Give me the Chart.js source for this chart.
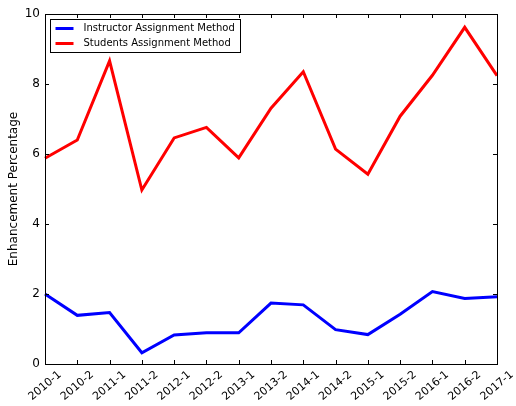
<!DOCTYPE html>
<html>
<head>
<meta charset="utf-8">
<script src="https://cdn.jsdelivr.net/npm/chart.js@4"></script>
<style>
  html, body { margin: 0; padding: 0; background: #fff; }
  #wrap { width: 516px; height: 406px; }
</style>
</head>
<body>
<div id="wrap"><canvas id="myChart" width="516" height="406"></canvas></div>
<script>
var labels = ["2010-1", "2010-2", "2011-1", "2011-2", "2012-1", "2012-2", "2013-1", "2013-2",
  "2014-1", "2014-2", "2015-1", "2015-2", "2016-1", "2016-2", "2017-1"];
var instructorValues = [2.0, 1.39, 1.47, 0.32, 0.83, 0.89, 0.89, 1.74, 1.69, 0.98, 0.84, 1.42, 2.07, 1.87, 1.92];
var studentValues = [5.88, 6.4, 8.66, 4.97, 6.46, 6.76, 5.89, 7.31, 8.35, 6.14, 5.42, 7.08, 8.25, 9.62, 8.24];
var yTicks = [0, 2, 4, 6, 8, 10];

var font = "DejaVu Sans";

// matplotlib-like frame, inward ticks on all sides, centred rotated x labels, legend inside
var framePlugin = {
  id: "frame",
  afterDraw: function(chart) {
    var ctx = chart.ctx, a = chart.chartArea;
    var x = chart.scales.x, y = chart.scales.y;
    ctx.save();
    ctx.strokeStyle = "#000";
    ctx.lineWidth = 1;
    ctx.strokeRect(a.left + 0.5, a.top + 0.5, a.right - a.left, a.bottom - a.top);
    ctx.beginPath();
    for (var i = 0; i < labels.length; i++) {
      var px = Math.round(x.getPixelForValue(i)) + 0.5;
      ctx.moveTo(px, a.bottom); ctx.lineTo(px, a.bottom - 4);
      ctx.moveTo(px, a.top); ctx.lineTo(px, a.top + 4);
    }
    yTicks.forEach(function(v) {
      var py = Math.round(y.getPixelForValue(v)) + 0.5;
      ctx.moveTo(a.left, py); ctx.lineTo(a.left + 4, py);
      ctx.moveTo(a.right, py); ctx.lineTo(a.right - 4, py);
    });
    ctx.stroke();

    // x tick labels, rotated 40 deg, centred on the tick
    var ang = 40 * Math.PI / 180;
    ctx.font = "11px '" + font + "'";
    ctx.fillStyle = "#000";
    ctx.textAlign = "center";
    ctx.textBaseline = "middle";
    labels.forEach(function(lab, i) {
      var w = ctx.measureText(lab).width, h = 11;
      var bh = w * Math.sin(ang) + h * Math.cos(ang);
      ctx.save();
      ctx.translate(x.getPixelForValue(i), a.bottom + 5 + bh / 2);
      ctx.rotate(-ang);
      ctx.fillText(lab, 0, 0);
      ctx.restore();
    });

    // legend
    var lx = a.left + 5.5, ly = a.top + 5.5;
    ctx.textAlign = "left";
    ctx.fillStyle = "#fff";
    ctx.fillRect(lx, ly, 190, 33);
    ctx.strokeRect(lx, ly, 190, 33);
    ctx.font = "10px '" + font + "'";
    chart.data.datasets.forEach(function(ds, k) {
      var cy = ly + 9 + k * 15;
      ctx.strokeStyle = ds.borderColor;
      ctx.lineWidth = 3;
      ctx.beginPath();
      ctx.moveTo(lx + 5, cy); ctx.lineTo(lx + 23, cy);
      ctx.stroke();
      ctx.fillStyle = "#000";
      ctx.fillText(ds.label, lx + 33, cy);
    });
    ctx.restore();
  }
};

var ctx = document.getElementById("myChart").getContext("2d");
var myChart = new Chart(ctx, {
  type: "line",
  data: {
    labels: labels,
    datasets: [
      {
        label: "Instructor Assignment Method",
        data: instructorValues,
        borderColor: "#0000ff",
        borderWidth: 3,
        pointRadius: 0,
        tension: 0,
        fill: false
      },
      {
        label: "Students Assignment Method",
        data: studentValues,
        borderColor: "#ff0000",
        borderWidth: 3,
        pointRadius: 0,
        tension: 0,
        fill: false
      }
    ]
  },
  options: {
    responsive: false,
    animation: false,
    layout: { padding: { left: 0, top: 14, right: 19, bottom: 0 } },
    plugins: {
      legend: { display: false },
      tooltip: { enabled: false }
    },
    scales: {
      x: {
        offset: false,
        grid: { display: false, drawTicks: false },
        border: { display: false },
        ticks: { display: false, autoSkip: false },
        afterFit: function(s) { s.height = 42; }
      },
      y: {
        min: 0,
        max: 10,
        afterBuildTicks: function(s) { s.ticks = yTicks.map(function(v) { return { value: v }; }); },
        grid: { display: false, drawTicks: false },
        border: { display: false },
        ticks: {
          padding: 5,
          color: "#000",
          font: { family: font, size: 12 }
        },
        title: {
          display: true,
          text: "Enhancement Percentage",
          color: "#000",
          padding: { top: 7, bottom: 0 },
          font: { family: font, size: 12 }
        },
        afterFit: function(s) { s.width = 45; }
      }
    }
  },
  plugins: [framePlugin]
});
</script>
</body>
</html>
